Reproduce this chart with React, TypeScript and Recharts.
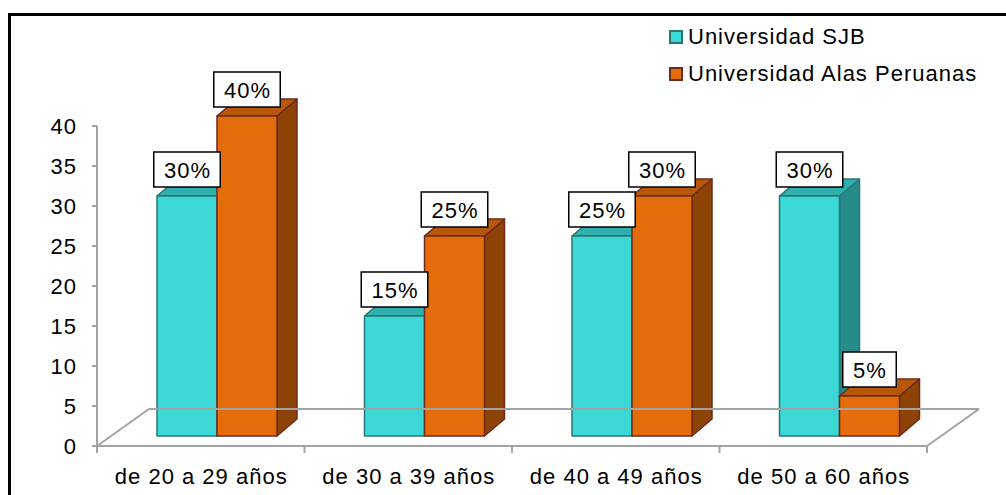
import { BarChart, Bar, XAxis, YAxis, Legend, LabelList } from 'recharts';

const categories = ['de 20 a 29 años', 'de 30 a 39 años', 'de 40 a 49 años', 'de 50 a 60 años'];
const sjbValues = [30, 15, 25, 30];
const alasValues = [40, 25, 30, 5];
const yTicks = [0, 5, 10, 15, 20, 25, 30, 35, 40];
const seriesNames = ['Universidad SJB', 'Universidad Alas Peruanas'];

const data = categories.map((name, i) => ({ name, sjb: sjbValues[i], alas: alasValues[i] }));

const FONT = '"Liberation Sans", Arial, sans-serif';
const AXIS_GRAY = '#a3a3a3';
const SPACING = 1;

// box depth of each bar
const DX = 20;
const DY = 17;
// bars stand a little back from the front edge of the floor
const SHIFT_X = 16;
const SHIFT_Y = 10;
// floor depth
const FLOOR_DX = 52;
const FLOOR_DY = 37;

const cyan = { front: '#3bd8d6', side: '#268b89', top: '#2fb0ae', stroke: '#2a7677' };
const orange = { front: '#e46c0a', side: '#8e4306', top: '#b8570a', stroke: '#6e2a1e' };

function makeBar3D(c: typeof cyan) {
  return (props: any) => {
    const { x, y, width, height } = props;
    if (height == null || width == null) return null;
    const fx = x + SHIFT_X;
    const fy = y - SHIFT_Y;
    const side = `${fx + width},${fy} ${fx + width + DX},${fy - DY} ${fx + width + DX},${fy + height - DY} ${fx + width},${fy + height}`;
    const top = `${fx},${fy} ${fx + DX},${fy - DY} ${fx + width + DX},${fy - DY} ${fx + width},${fy}`;
    return (
      <g stroke={c.stroke} strokeWidth={1.5} strokeLinejoin="round">
        <polygon points={side} fill={c.side} />
        <polygon points={top} fill={c.top} />
        <rect x={fx} y={fy} width={width} height={height} fill={c.front} />
      </g>
    );
  };
}

// white boxed percentage above each bar
function ValueBox(props: any) {
  const { x, y, width, value } = props;
  const text = `${value}%`;
  const digits = String(value).length;
  const w = digits * 13 + 20.5 + 20;
  const cx = x + SHIFT_X + width / 2;
  const bottom = y - SHIFT_Y - 9;
  const h = 35;
  return (
    <g>
      <rect x={cx - w / 2} y={bottom - h} width={w} height={h} fill="#fff" stroke="#000" strokeWidth={1.5} />
      <text
        x={cx + SPACING / 2}
        y={bottom - h / 2 + 8}
        textAnchor="middle"
        fontFamily={FONT}
        fontSize={22}
        letterSpacing={SPACING}
        fill="#000"
      >
        {text}
      </text>
    </g>
  );
}

// category label plus the floor outline and boundary ticks
function CategoryTick(props: any) {
  const { x, y, payload, index, visibleTicksCount } = props;
  const half = payload.offset ?? 103.75;
  const count = visibleTicksCount ?? categories.length;
  const left = x - half;
  const right = x + half;
  return (
    <g>
      <line x1={left} y1={y} x2={left} y2={y + 7} stroke={AXIS_GRAY} strokeWidth={2} />
      {index === 0 && (
        <>
          <line x1={left} y1={y} x2={left + FLOOR_DX} y2={y - FLOOR_DY} stroke={AXIS_GRAY} strokeWidth={2} />
          <line
            x1={left + FLOOR_DX}
            y1={y - FLOOR_DY}
            x2={left + FLOOR_DX + count * 2 * half}
            y2={y - FLOOR_DY}
            stroke={AXIS_GRAY}
            strokeWidth={2}
          />
        </>
      )}
      {index === count - 1 && (
        <>
          <line x1={right} y1={y} x2={right} y2={y + 7} stroke={AXIS_GRAY} strokeWidth={2} />
          <line x1={right} y1={y} x2={right + FLOOR_DX} y2={y - FLOOR_DY} stroke={AXIS_GRAY} strokeWidth={2} />
        </>
      )}
      <text
        x={x + SPACING / 2}
        y={y + 38}
        textAnchor="middle"
        fontFamily={FONT}
        fontSize={22}
        letterSpacing={SPACING}
        fill="#000"
      >
        {payload.value}
      </text>
    </g>
  );
}

function LegendBox() {
  const swatches = [cyan, orange];
  return (
    <div style={{ fontFamily: FONT, fontSize: 22, letterSpacing: SPACING, color: '#000' }}>
      {seriesNames.map((name, i) => (
        <div key={name} style={{ display: 'flex', alignItems: 'center', height: 37 }}>
          <span
            style={{
              display: 'inline-block',
              width: 10,
              height: 10,
              background: swatches[i].front,
              border: `2px solid ${swatches[i].stroke}`,
              marginRight: 5,
            }}
          />
          {name}
        </div>
      ))}
    </div>
  );
}

export default function App() {
  return (
    <div style={{ position: 'absolute', left: 0, top: 0, width: 1006, height: 495, background: '#fff' }}>
      <div
        style={{
          position: 'absolute',
          left: 8,
          top: 13,
          right: 0,
          bottom: 0,
          borderTop: '3px solid #000',
          borderLeft: '3px solid #000',
        }}
      />
      <div style={{ position: 'absolute', left: 0, top: 0 }}>
        <BarChart
          width={1006}
          height={495}
          data={data}
          margin={{ top: 126, right: 79, bottom: 9, left: 17 }}
          barSize={60}
          barGap={0}
        >
          <XAxis
            dataKey="name"
            height={40}
            axisLine={{ stroke: AXIS_GRAY, strokeWidth: 2 }}
            tickLine={false}
            tickSize={0}
            tickMargin={0}
            tick={<CategoryTick />}
            interval={0}
          />
          <YAxis
            width={80}
            domain={[0, 40]}
            ticks={yTicks}
            axisLine={{ stroke: AXIS_GRAY, strokeWidth: 2 }}
            tickLine={{ stroke: AXIS_GRAY, strokeWidth: 2 }}
            tickSize={5}
            tickMargin={15}
            tick={{ fill: '#000', fontSize: 22, fontFamily: FONT, letterSpacing: SPACING }}
          />
          <Legend
            layout="horizontal"
            verticalAlign="middle"
            align="center"
            wrapperStyle={{ top: 18, left: 669, width: 335, height: 74 }}
            content={() => <LegendBox />}
          />
          <Bar dataKey="sjb" name={seriesNames[0]} shape={makeBar3D(cyan)} isAnimationActive={false}>
            <LabelList dataKey="sjb" content={<ValueBox />} />
          </Bar>
          <Bar dataKey="alas" name={seriesNames[1]} shape={makeBar3D(orange)} isAnimationActive={false}>
            <LabelList dataKey="alas" content={<ValueBox />} />
          </Bar>
        </BarChart>
      </div>
    </div>
  );
}
